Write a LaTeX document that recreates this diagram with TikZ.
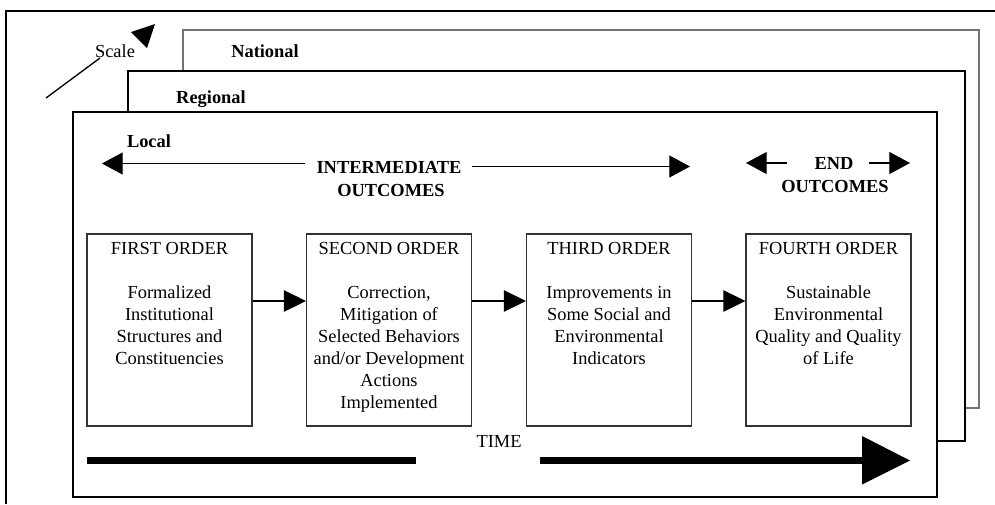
\documentclass[tikz,border=0pt]{standalone}
\usepackage{fontspec}
\setmainfont{Liberation Serif}
\usetikzlibrary{arrows.meta}
\begin{document}
\begin{tikzpicture}[x=0.75pt,y=-0.75pt,
  txt/.style={font=\fontsize{13.8}{16.5}\selectfont, inner sep=0pt, align=center},
  btxt/.style={font=\fontsize{13.8}{16.5}\selectfont\bfseries, inner sep=0pt, align=center},
  level/.style={fill=white, line width=1.4pt},
  stage/.style={draw=black!80, line width=0.8pt, minimum width=123.75pt,
                minimum height=144pt, inner sep=0pt},
  link/.style={line width=0.8pt, -{Triangle[length=16.5pt,width=16pt]}},
  span/.style={line width=0.8pt, -{Triangle[length=15.5pt,width=16.5pt]}},
  timebar/.style={line width=5.25pt},
]
\useasboundingbox (0,0) rectangle (995,504);

% outer frame
\draw[line width=1.5pt] (6,504) -- (6,11) -- (995,11);

% stacked scale levels
\draw[level, draw=black!55] (183,30) rectangle (979,408);
\draw[level, draw=black] (128,71) rectangle (965,441);
\draw[level, draw=black] (73,112) rectangle (937,497);

\node[btxt] (national) at (265,51) {National};
\node[btxt] (regional) at (211,99) {Regional};
\node[btxt] (local) at (149,141) {Local};

% scale indicator
\node[txt] (scale) at (115,51) {Scale};
\draw[line width=1pt] (46,98) -- (100,58);
\fill (131,32) -- (155,24) -- (147,48) -- cycle;

% outcome headings
\node[btxt] (inter) at (389,167) {INTERMEDIATE};
\node[btxt] (interb) at (391,190) {OUTCOMES};
\coordinate (ila) at (305,163.5);
\coordinate (ilb) at (102,163.5);
\coordinate (ira) at (472,166.5);
\coordinate (irb) at (690,166.5);
\draw[span] (ila) -- (ilb);
\draw[span] (ira) -- (irb);

\node[btxt] (endt) at (834,163) {END};
\node[btxt] (endb) at (835,186) {OUTCOMES};
\coordinate (ela) at (787,163);
\coordinate (elb) at (746,163);
\coordinate (era) at (869,163);
\coordinate (erb) at (910,163);
\draw[span] (ela) -- (elb);
\draw[span] (era) -- (erb);

% stages
\node[stage] (b1) at (169.5,330) {};
\node[stage] (b2) at (389,330) {};
\node[stage] (b3) at (609,330) {};
\node[stage] (b4) at (828.5,330) {};

\node[txt, anchor=north] (t1) at ([yshift=-6.75pt]b1.north)
  {FIRST ORDER\\[16.5pt]Formalized\\Institutional\\Structures and\\Constituencies};
\node[txt, anchor=north] (t2) at ([yshift=-6.75pt]b2.north)
  {SECOND ORDER\\[16.5pt]Correction,\\Mitigation of\\Selected Behaviors\\and/or Development\\Actions\\Implemented};
\node[txt, anchor=north] (t3) at ([yshift=-6.75pt]b3.north)
  {THIRD ORDER\\[16.5pt]Improvements in\\Some Social and\\Environmental\\Indicators};
\node[txt, anchor=north] (t4) at ([yshift=-6.75pt]b4.north)
  {FOURTH ORDER\\[16.5pt]Sustainable\\Environmental\\Quality and Quality\\of Life};

\coordinate (ay) at (0,301);
\draw[link] (b1.east |- ay) -- (b2.west |- ay);
\draw[link] (b2.east |- ay) -- (b3.west |- ay);
\draw[link] (b3.east |- ay) -- (b4.west |- ay);

% time axis
\node[txt] (time) at (499,441) {TIME};
\coordinate (ta) at (87,460.5);
\coordinate (tb) at (416,460.5);
\coordinate (tc) at (540,460.5);
\coordinate (td) at (862,460.5);
\coordinate (te) at (910,460.5);
\draw[timebar] (ta) -- (tb);
\draw[timebar] (tc) -- (td);
\fill (td) ++(0,-24.5) -- (te) -- ([yshift=-18pt]td) -- cycle;
\end{tikzpicture}
\end{document}
